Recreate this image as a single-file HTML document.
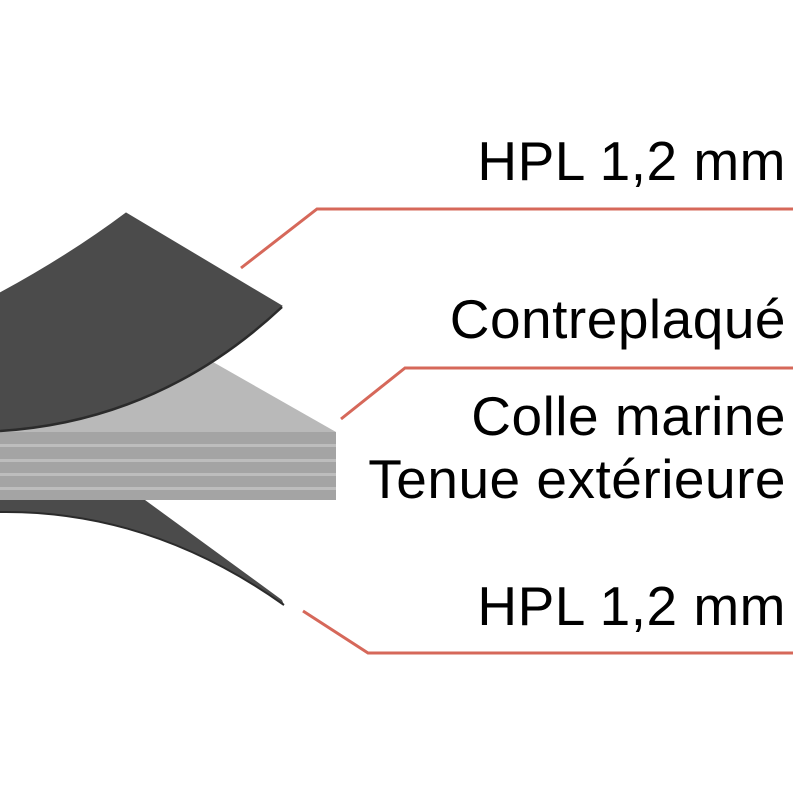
<!DOCTYPE html>
<html><head><meta charset="utf-8"><style>
html,body{margin:0;padding:0;background:#fff;width:800px;height:800px;overflow:hidden}
</style></head><body>
<svg width="800" height="800" viewBox="0 0 800 800" xmlns="http://www.w3.org/2000/svg">
<rect width="800" height="800" fill="#fff"/>
<polygon points="0,380 213,362 336,432 0,432" fill="#b9b9b9"/>
<rect x="0" y="432" width="336" height="68" fill="#a4a4a4"/>
<rect x="0" y="444" width="336" height="3" fill="#bdbdbd"/>
<rect x="0" y="459" width="336" height="3" fill="#bdbdbd"/>
<rect x="0" y="473" width="336" height="3" fill="#bdbdbd"/>
<rect x="0" y="487" width="336" height="3" fill="#bdbdbd"/>
<path d="M0,293 Q70,255 126,213 L282,306 Q160,420 0,430 Z" fill="#4b4b4b" stroke="#4b4b4b" stroke-width="1"/>
<path d="M282,307 Q160,421 0,431" fill="none" stroke="#2b2b2b" stroke-width="2.5"/>
<path d="M0,500 L145,500 L282,600 L284,605 Q150,510 0,512 Z" fill="#4b4b4b"/>
<path d="M284,605 Q150,510 0,512" fill="none" stroke="#2b2b2b" stroke-width="2"/>
<g fill="none" stroke="#d6685a" stroke-width="3">
<polyline points="241,268 317,209 793,209"/>
<polyline points="341,419 405,368 793,368"/>
<polyline points="303,611 368,653 793,653"/>
</g>
<g font-family="'Liberation Sans', Arial, sans-serif" font-size="55" fill="#000" text-anchor="end" letter-spacing="0.5">
<text x="786" y="180">HPL 1,2 mm</text>
<text x="786" y="338">Contreplaqué</text>
<text x="786" y="435">Colle marine</text>
<text x="786" y="498">Tenue extérieure</text>
<text x="786" y="625">HPL 1,2 mm</text>
</g>
</svg>
</body></html>
